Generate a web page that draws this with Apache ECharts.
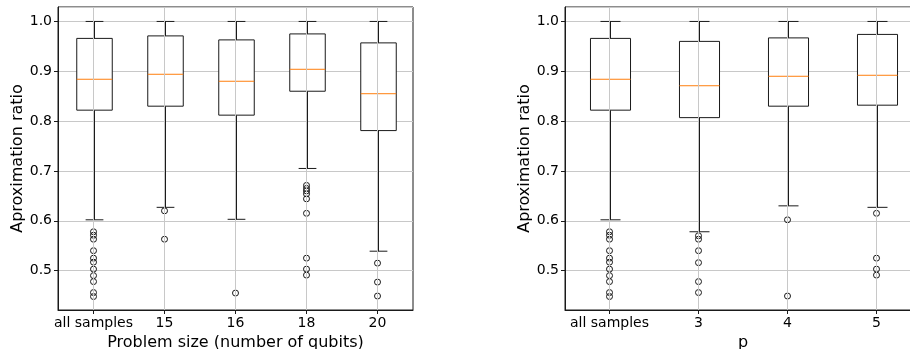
<!DOCTYPE html>
<html>
<head>
<meta charset="utf-8">
<script src="https://cdn.jsdelivr.net/npm/echarts@6/dist/echarts.min.js"></script>
<style>
html,body{margin:0;padding:0;background:#fff;}
#chart{width:910px;height:349px;}
</style>
</head>
<body>
<div id="chart"></div>
<script>
// ---- Left panel: by problem size ----
const sizeCategories = ['all samples', '15', '16', '18', '20'];
const sizeWhiskerLow = [0.602, 0.627, 0.603, 0.705, 0.539];
const sizeQ1 = [0.822, 0.830, 0.812, 0.860, 0.781];
const sizeMedian = [0.884, 0.894, 0.880, 0.904, 0.855];
const sizeQ3 = [0.966, 0.971, 0.963, 0.975, 0.957];
const sizeWhiskerHigh = [1.0, 1.0, 1.0, 1.0, 1.0];
const sizeOutliers = [
  [0.578, 0.571, 0.563, 0.540, 0.525, 0.517, 0.503, 0.490, 0.478, 0.456, 0.448],
  [0.620, 0.563],
  [0.455],
  [0.671, 0.665, 0.660, 0.654, 0.644, 0.615, 0.525, 0.503, 0.491],
  [0.515, 0.477, 0.449]
];

// ---- Right panel: by p ----
const pCategories = ['all samples', '3', '4', '5'];
const pWhiskerLow = [0.602, 0.578, 0.630, 0.627];
const pQ1 = [0.822, 0.807, 0.830, 0.832];
const pMedian = [0.884, 0.871, 0.890, 0.892];
const pQ3 = [0.966, 0.960, 0.967, 0.974];
const pWhiskerHigh = [1.0, 1.0, 1.0, 1.0];
const pOutliers = [
  [0.578, 0.571, 0.563, 0.540, 0.525, 0.517, 0.503, 0.490, 0.478, 0.456, 0.448],
  [0.570, 0.563, 0.540, 0.516, 0.478, 0.456],
  [0.602, 0.449],
  [0.615, 0.525, 0.503, 0.491]
];

const yTickValues = [0.5, 0.6, 0.7, 0.8, 0.9, 1.0];

const FONT = 'DejaVu Sans';
const LINE = '#1a1a1a';
const MEDIAN = '#ff7f0e';
const GRIDC = '#c8c8c8';

function boxData(cats, lo, q1, med, q3, hi) {
  return cats.map((c, i) => [i, lo[i], q1[i], med[i], q3[i], hi[i]]);
}
function outlierData(cats, outs) {
  const d = [];
  outs.forEach((arr, i) => arr.forEach(v => d.push([cats[i], v])));
  return d;
}

function makeRender(frac) {
  return function (params, api) {
    const x = api.value(0);
    const pLo = api.coord([x, api.value(1)]);
    const pQ1 = api.coord([x, api.value(2)]);
    const pMed = api.coord([x, api.value(3)]);
    const pQ3 = api.coord([x, api.value(4)]);
    const pHi = api.coord([x, api.value(5)]);
    const bw = api.size([1, 0])[0] * frac;
    const cx = Math.round(pLo[0]) + 0.5;
    const st = { stroke: LINE, lineWidth: 1, fill: null };
    return {
      type: 'group',
      children: [
        { type: 'line', shape: { x1: cx, y1: pQ3[1], x2: cx, y2: pHi[1] }, style: st },
        { type: 'line', shape: { x1: cx, y1: pQ1[1], x2: cx, y2: pLo[1] }, style: st },
        { type: 'line', shape: { x1: cx - bw / 4, y1: pHi[1], x2: cx + bw / 4, y2: pHi[1] }, style: st },
        { type: 'line', shape: { x1: cx - bw / 4, y1: pLo[1], x2: cx + bw / 4, y2: pLo[1] }, style: st },
        { type: 'rect', shape: { x: cx - bw / 2, y: pQ3[1], width: bw, height: pQ1[1] - pQ3[1] }, style: { stroke: LINE, lineWidth: 1, fill: '#fff' } },
        { type: 'line', shape: { x1: cx - bw / 2, y1: pMed[1], x2: cx + bw / 2, y2: pMed[1] }, style: { stroke: MEDIAN, lineWidth: 1 } }
      ]
    };
  };
}

function xAxisDef(gridIndex, cats, name) {
  return {
    type: 'category', gridIndex: gridIndex, data: cats, boundaryGap: true,
    name: name, nameLocation: 'middle', nameGap: 21,
    nameTextStyle: { fontFamily: FONT, fontSize: 16, color: '#000' },
    axisLine: { show: true, lineStyle: { color: LINE, width: 1 } },
    axisTick: { show: true, alignWithLabel: true, inside: false, length: 4, lineStyle: { color: LINE } },
    axisLabel: { fontFamily: FONT, fontSize: 14, color: '#000', margin: 6, interval: 0 },
    splitLine: { show: false }
  };
}
function yAxisDef(gridIndex) {
  return {
    type: 'value', gridIndex: gridIndex, min: 0.421, max: 1.029,
    minInterval: 0.1, maxInterval: 0.1, splitNumber: 6,
    name: 'Aproximation ratio', nameLocation: 'middle', nameGap: 32, nameRotate: 90,
    nameTextStyle: { fontFamily: FONT, fontSize: 16, color: '#000' },
    axisLine: { show: true, lineStyle: { color: LINE, width: 1 } },
    axisTick: { show: true, inside: false, length: 4, lineStyle: { color: LINE } },
    axisLabel: {
      fontFamily: FONT, fontSize: 14, color: '#000', margin: 6,
      showMinLabel: false, showMaxLabel: false,
      formatter: v => {
        const r = Math.round(v * 10) / 10;
        return (Math.abs(v - r) < 1e-6 && yTickValues.indexOf(r) >= 0) ? r.toFixed(1) : '';
      }
    },
    splitLine: { show: true, lineStyle: { color: GRIDC, width: 1 } }
  };
}

function vGrid(xi, yi, cats) {
  return {
    type: 'line', xAxisIndex: xi, yAxisIndex: yi, data: [], z: 1, silent: true,
    markLine: {
      silent: true, symbol: ['none', 'none'], label: { show: false },
      lineStyle: { color: GRIDC, width: 1, type: 'solid' },
      emphasis: { disabled: true },
      data: cats.map(c => ({ xAxis: c }))
    }
  };
}

const chart = echarts.init(document.getElementById('chart'), null, { renderer: 'canvas' });
chart.setOption({
  animation: false,
  backgroundColor: '#fff',
  grid: [
    { left: 58, top: 7, width: 355, height: 303, show: true, borderColor: LINE, borderWidth: 1, backgroundColor: 'transparent', outerBoundsMode: 'none', containLabel: false },
    { left: 565, top: 7, width: 356, height: 303, show: true, borderColor: LINE, borderWidth: 1, backgroundColor: 'transparent', outerBoundsMode: 'none', containLabel: false }
  ],
  xAxis: [
    xAxisDef(0, sizeCategories, 'Problem size (number of qubits)'),
    xAxisDef(1, pCategories, 'p')
  ],
  yAxis: [yAxisDef(0), yAxisDef(1)],
  series: [
    vGrid(0, 0, sizeCategories),
    vGrid(1, 1, pCategories),
    {
      type: 'custom', xAxisIndex: 0, yAxisIndex: 0, z: 3,
      renderItem: makeRender(0.5),
      encode: { x: 0, y: [1, 2, 3, 4, 5] },
      data: boxData(sizeCategories, sizeWhiskerLow, sizeQ1, sizeMedian, sizeQ3, sizeWhiskerHigh)
    },
    {
      type: 'custom', xAxisIndex: 1, yAxisIndex: 1, z: 3,
      renderItem: makeRender(0.45),
      encode: { x: 0, y: [1, 2, 3, 4, 5] },
      data: boxData(pCategories, pWhiskerLow, pQ1, pMedian, pQ3, pWhiskerHigh)
    },
    {
      type: 'scatter', xAxisIndex: 0, yAxisIndex: 0, z: 4,
      symbol: 'circle', symbolSize: 6,
      itemStyle: { color: 'rgba(0,0,0,0)', borderColor: LINE, borderWidth: 1, opacity: 1 },
      data: outlierData(sizeCategories, sizeOutliers)
    },
    {
      type: 'scatter', xAxisIndex: 1, yAxisIndex: 1, z: 4,
      symbol: 'circle', symbolSize: 6,
      itemStyle: { color: 'rgba(0,0,0,0)', borderColor: LINE, borderWidth: 1, opacity: 1 },
      data: outlierData(pCategories, pOutliers)
    }
  ]
});
</script>
</body>
</html>
